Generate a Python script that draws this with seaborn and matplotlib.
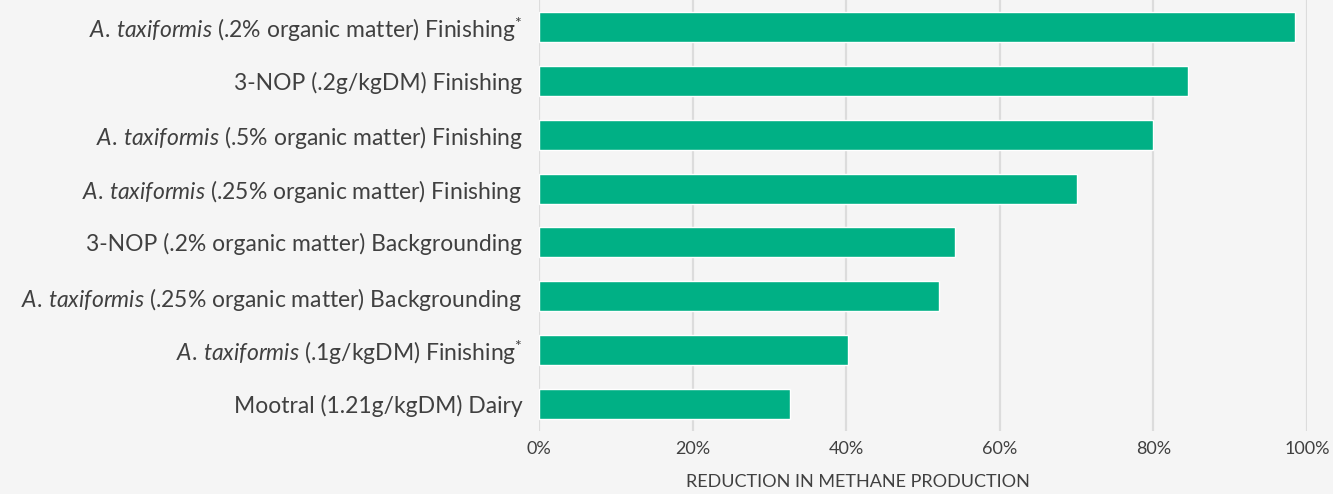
import numpy as np
import pandas as pd
import matplotlib
matplotlib.use("Agg")
import matplotlib.pyplot as plt
import seaborn as sns
from matplotlib.ticker import PercentFormatter

# categories, top to bottom (mathtext for the italic species name)
labels = [
    r"$\mathit{A.\,taxiformis}$ (.2% organic matter) Finishing$^{*}$",
    "3-NOP (.2g/kgDM) Finishing",
    r"$\mathit{A.\,taxiformis}$ (.5% organic matter) Finishing",
    r"$\mathit{A.\,taxiformis}$ (.25% organic matter) Finishing",
    "3-NOP (.2% organic matter) Backgrounding",
    r"$\mathit{A.\,taxiformis}$ (.25% organic matter) Backgrounding",
    r"$\mathit{A.\,taxiformis}$ (.1g/kgDM) Finishing$^{*}$",
    "Mootral (1.21g/kgDM) Dairy",
]
reduction = [98.4, 84.5, 79.9, 70.0, 54.2, 52.1, 40.2, 32.7]
xticks = [0, 20, 40, 60, 80, 100]

bg = "#f5f5f5"
green = "#00b085"
text_col = "#404040"

sns.set_style("whitegrid")
plt.rcParams["font.family"] = ["Lato", "DejaVu Sans"]
plt.rcParams["mathtext.fontset"] = "custom"
plt.rcParams["mathtext.rm"] = "Lato"
plt.rcParams["mathtext.it"] = "Lato:italic"

df = pd.DataFrame({"label": labels, "reduction": reduction})

fig = plt.figure(figsize=(13.33, 4.94), dpi=100, facecolor=bg)
ax = fig.add_axes([539 / 1333, (494 - 431) / 494, (1307 - 539) / 1333, 431 / 494])
ax.set_facecolor(bg)

sns.barplot(data=df, x="reduction", y="label", orient="h", color=green,
            width=0.556, saturation=1, ax=ax)

ax.set_xlim(0, 100)
ax.set_ylim(7.5, -0.5)
ax.set_xticks(xticks)
ax.xaxis.set_major_formatter(PercentFormatter(decimals=0))
ax.grid(axis="x", color="#dcdcdc", linewidth=1.6)
ax.grid(axis="y", visible=False)
ax.set_axisbelow(True)
for s in ax.spines.values():
    s.set_visible(False)

ax.tick_params(axis="y", length=0, pad=12, labelsize=16.5, labelcolor=text_col)
ax.tick_params(axis="x", length=0, pad=7, labelsize=13, labelcolor=text_col)
ax.set_ylabel("")
ax.set_xlabel("REDUCTION IN METHANE PRODUCTION", fontsize=13, color=text_col)
ax.xaxis.set_label_coords(0.415, -0.10)

fig.savefig("out.png", dpi=100, facecolor=bg)
